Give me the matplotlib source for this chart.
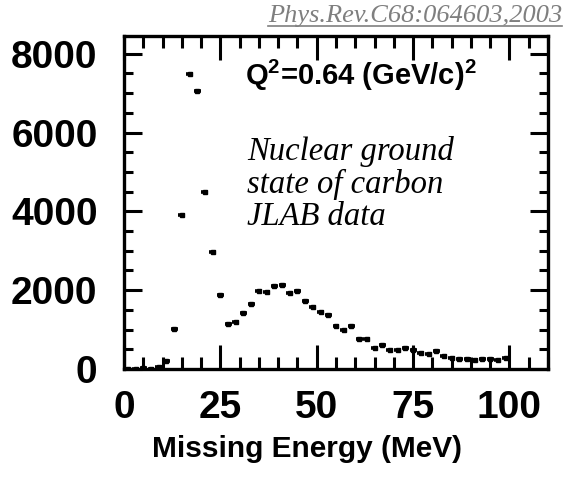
import matplotlib
matplotlib.use("Agg")
import matplotlib.pyplot as plt
from matplotlib.ticker import MultipleLocator, FixedLocator
from matplotlib.lines import Line2D

# ---- data ----
energy = [1, 3, 5, 7, 9, 11, 13, 15, 17, 19, 21, 23, 25, 27, 29, 31, 33, 35, 37, 39,
          41, 43, 45, 47, 49, 51, 53, 55, 57, 59, 61, 63, 65, 67, 69, 71, 73, 75, 77, 79,
          81, 83, 85, 87, 89, 91, 93, 95, 97, 99]
counts = [0, 0, 30, 0, 50, 200, 1010, 3910, 7490, 7060, 4480, 2965, 1880, 1150, 1200,
          1415, 1660, 1980, 1960, 2100, 2135, 1940, 1980, 1720, 1576, 1456, 1365, 1093,
          983, 1093, 755, 755, 526, 610, 483, 483, 541, 475, 415, 373, 457, 330, 272,
          246, 246, 220, 246, 262, 230, 272]
x_ticks = [0, 25, 50, 75, 100]
x_ticklabels = ["0", "25", "50", "75", "100"]
y_ticks = [0, 2000, 4000, 6000, 8000]
y_ticklabels = ["0", "2000", "4000", "6000", "8000"]

x_label = "Missing Energy (MeV)"
q2_text = r"Q$^{2}$=0.64 (GeV/c)$^{2}$"
note_text = "Nuclear ground\nstate of carbon\nJLAB data"
cite_text = "Phys.Rev.C68:064603,2003"

plt.rcParams["mathtext.fontset"] = "custom"
plt.rcParams["mathtext.rm"] = "Liberation Sans:bold"
plt.rcParams["mathtext.bf"] = "Liberation Sans:bold"
plt.rcParams["mathtext.it"] = "Liberation Sans:bold"

sans = ["Liberation Sans", "DejaVu Sans"]
serif = ["Liberation Serif", "DejaVu Serif"]

fig = plt.figure(figsize=(5.74, 4.79), dpi=100)
ax = fig.add_axes([124 / 574, 1 - 369 / 479, (548 - 124) / 574, (369 - 36) / 479])

ax.errorbar(energy, counts, xerr=0.9, fmt="s", color="black", markersize=3,
            elinewidth=2.6, capsize=0, linestyle="none")

ax.set_xlim(0, 110)
ax.set_ylim(0, 8450)

ax.xaxis.set_major_locator(FixedLocator(x_ticks))
ax.xaxis.set_minor_locator(MultipleLocator(5))
ax.yaxis.set_major_locator(FixedLocator(y_ticks))
ax.yaxis.set_minor_locator(MultipleLocator(500))
ax.set_xticklabels(x_ticklabels, fontfamily=sans, fontweight="bold", fontsize=28)
ax.set_yticklabels(y_ticklabels, fontfamily=sans, fontweight="bold", fontsize=28)

ax.tick_params(axis="both", which="both", direction="in", top=True, right=True,
               width=2.2, color="black")
ax.tick_params(axis="x", which="major", length=17, pad=15)
ax.tick_params(axis="x", which="minor", length=8.5)
ax.tick_params(axis="y", which="major", length=13, pad=19)
ax.tick_params(axis="y", which="minor", length=6.5)
for s in ax.spines.values():
    s.set_linewidth(2.4)

ax.set_xlabel(x_label, fontfamily=sans, fontweight="bold", fontsize=21.5)
ax.xaxis.set_label_coords((307 - 124) / 424, (369 - 449) / 333)
ax.xaxis.label.set_va("center")

ax.text(31.5, 7440, q2_text, fontfamily=sans, fontweight="bold", fontsize=21,
        ha="left", va="center")
ax.text(32, 5915, note_text, fontfamily=serif, fontstyle="italic", fontsize=23.5,
        ha="left", va="top", linespacing=1.08)

cite = fig.text(562 / 574, 1 - 16 / 479, cite_text, fontfamily=serif, fontstyle="italic",
                fontsize=19, color="#7f7f7f", ha="right", va="center")

fig.canvas.draw()
bb = cite.get_window_extent(fig.canvas.get_renderer())
fig.add_artist(Line2D([bb.x0 / fig.bbox.width, bb.x1 / fig.bbox.width],
                      [(bb.y0 + 1) / fig.bbox.height] * 2,
                      transform=fig.transFigure, color="#7f7f7f", linewidth=1.2))

fig.savefig("out.png", dpi=100)
